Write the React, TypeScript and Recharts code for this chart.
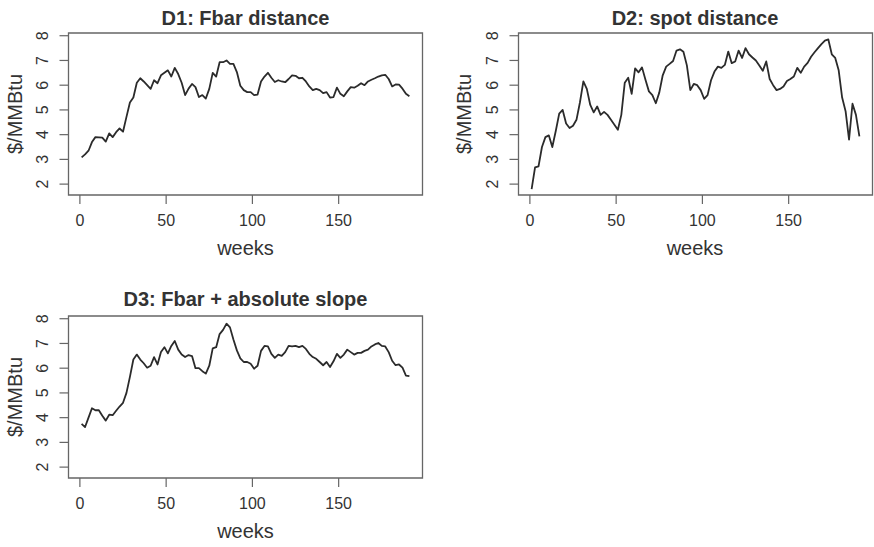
import React from 'react';
import { LineChart, Line, XAxis, YAxis, ReferenceArea } from 'recharts';

// weekly index, sampled every second week
const weeks = [
  1, 3, 5, 7, 9, 11, 13, 15, 17, 19, 21, 23, 25, 27, 29, 31, 33, 35, 37, 39,
  41, 43, 45, 47, 49, 51, 53, 55, 57, 59, 61, 63, 65, 67, 69, 71, 73, 75, 77, 79,
  81, 83, 85, 87, 89, 91, 93, 95, 97, 99, 101, 103, 105, 107, 109, 111, 113, 115, 117, 119,
  121, 123, 125, 127, 129, 131, 133, 135, 137, 139, 141, 143, 145, 147, 149, 151, 153, 155, 157, 159,
  161, 163, 165, 167, 169, 171, 173, 175, 177, 179, 181, 183, 185, 187, 189, 191,
];

const fbarDistance = [
  3.08, 3.2, 3.35, 3.7, 3.9, 3.89, 3.88, 3.72, 4.05, 3.9,
  4.1, 4.25, 4.12, 4.72, 5.3, 5.5, 6.1, 6.28, 6.15, 6.0,
  5.85, 6.2, 6.08, 6.4, 6.5, 6.6, 6.35, 6.7, 6.45, 6.1,
  5.6, 5.86, 6.05, 5.92, 5.52, 5.6, 5.46, 5.85, 6.5, 6.35,
  6.93, 6.93, 7.0, 6.86, 6.86, 6.53, 5.98, 5.8, 5.72, 5.72,
  5.6, 5.62, 6.15, 6.35, 6.5, 6.3, 6.13, 6.2, 6.15, 6.12,
  6.25, 6.4, 6.38, 6.28, 6.3, 6.15, 5.95, 5.8, 5.85, 5.8,
  5.68, 5.72, 5.5, 5.52, 5.9, 5.65, 5.55, 5.75, 5.92, 5.9,
  5.98, 6.08, 6.0, 6.15, 6.22, 6.28, 6.35, 6.4, 6.42, 6.25,
  5.95, 6.03, 6.02, 5.86, 5.65, 5.55,
];

const spotDistance = [
  1.8, 2.68, 2.72, 3.5, 3.9, 3.97, 3.5, 4.15, 4.85, 5.0,
  4.45, 4.27, 4.36, 4.6, 5.3, 6.15, 5.85, 5.2, 4.9, 5.14,
  4.8, 4.92, 4.8, 4.6, 4.4, 4.2, 4.8, 6.1, 6.3, 5.65,
  6.68, 6.52, 6.72, 6.22, 5.75, 5.6, 5.27, 5.7, 6.4, 6.75,
  6.86, 6.98, 7.4, 7.45, 7.35, 6.8, 5.8, 6.05, 6.0, 5.8,
  5.45, 5.6, 6.2, 6.55, 6.75, 6.7, 6.82, 7.36, 6.89, 6.96,
  7.4, 7.1, 7.5, 7.25, 7.12, 7.0, 6.8, 6.58, 6.96, 6.25,
  6.0, 5.8, 5.85, 5.95, 6.17, 6.25, 6.35, 6.7, 6.5, 6.75,
  6.9, 7.15, 7.33, 7.5, 7.66, 7.8, 7.85, 7.25, 7.1, 6.6,
  5.5, 4.95, 3.8, 5.25, 4.8, 3.93,
];

const fbarAbsSlope = [
  3.75, 3.62, 4.0, 4.38, 4.3, 4.3, 4.08, 3.88, 4.12, 4.1,
  4.28, 4.45, 4.6, 5.0, 5.65, 6.35, 6.55, 6.35, 6.2, 6.02,
  6.1, 6.45, 6.15, 6.65, 6.85, 6.6, 6.9, 7.1, 6.75, 6.55,
  6.45, 6.53, 6.49, 6.0, 6.0, 5.88, 5.78, 6.1, 6.8, 6.85,
  7.38, 7.55, 7.8, 7.65, 7.16, 6.72, 6.4, 6.25, 6.25, 6.18,
  5.98, 6.1, 6.7, 6.9, 6.88, 6.58, 6.42, 6.55, 6.5, 6.65,
  6.9, 6.88, 6.9, 6.85, 6.9, 6.78, 6.58, 6.45, 6.38, 6.25,
  6.12, 6.25, 6.05, 6.28, 6.58, 6.42, 6.55, 6.75, 6.65, 6.55,
  6.62, 6.62, 6.7, 6.75, 6.88, 6.96, 7.02, 6.9, 6.88, 6.65,
  6.3, 6.12, 6.15, 6.02, 5.7, 5.68,
];

const xTicks = [0, 50, 100, 150];
const yTicks = [2, 3, 4, 5, 6, 7, 8];
const xDomain = [-6.6, 198.6];
const yDomain = [1.56, 8.11];

const FONT = '"Liberation Sans", Arial, sans-serif';
const BOX = '#666';
const INK = '#333';

const YTick = (props: any) => {
  const { x, y, payload } = props;
  return (
    <text x={x} y={y} transform={`rotate(-90, ${x}, ${y})`} textAnchor="middle" fontSize={16} fill={INK} fontFamily={FONT}>
      {payload.value}
    </text>
  );
};

const Panel = ({ values, left, top }: { values: number[]; left: number; top: number }) => {
  const data = weeks.map((w, i) => ({ week: w, v: values[i] }));
  return (
    <div style={{ position: 'absolute', left, top }}>
      <LineChart width={440} height={273} data={data} margin={{ top: 33, right: 17.5, left: 0, bottom: 38 }}>
        <XAxis
          dataKey="week"
          type="number"
          domain={xDomain}
          ticks={xTicks}
          allowDataOverflow
          axisLine={false}
          tickLine={{ stroke: BOX, strokeWidth: 1.2 }}
          tickSize={9}
          tickMargin={11}
          height={40}
          tick={{ fill: INK, fontSize: 16, fontFamily: FONT }}
        />
        <YAxis
          type="number"
          domain={yDomain}
          ticks={yTicks}
          allowDataOverflow
          axisLine={false}
          tickLine={{ stroke: BOX, strokeWidth: 1.2 }}
          tickSize={9}
          tickMargin={11}
          width={68.5}
          tick={<YTick />}
        />
        <ReferenceArea
          x1={xDomain[0]}
          x2={xDomain[1]}
          y1={yDomain[0]}
          y2={yDomain[1]}
          fill="none"
          fillOpacity={0}
          stroke={BOX}
          strokeWidth={1.3}
          ifOverflow="visible"
        />
        <Line type="linear" dataKey="v" stroke="#2b2b2b" strokeWidth={1.8} strokeLinejoin="round" dot={false} isAnimationActive={false} />
      </LineChart>
    </div>
  );
};

const App: React.FC = () => {
  return (
    <div style={{ position: 'absolute', left: 0, top: 0, width: 874, height: 547, overflow: 'hidden', background: '#fff', fontFamily: FONT }}>
      <Panel values={fbarDistance} left={0} top={0} />
      <Panel values={spotDistance} left={449.5} top={0} />
      <Panel values={fbarAbsSlope} left={0} top={283} />
      <svg width={874} height={547} style={{ position: 'absolute', left: 0, top: 0, pointerEvents: 'none' }} fontFamily={FONT} fill={INK}>
        <text x={245.5} y={25} textAnchor="middle" fontSize={20} fontWeight="bold">D1: Fbar distance</text>
        <text x={695} y={25} textAnchor="middle" fontSize={20} fontWeight="bold">D2: spot distance</text>
        <text x={245.5} y={306} textAnchor="middle" fontSize={20} fontWeight="bold">D3: Fbar + absolute slope</text>
        <text x={245.5} y={255} textAnchor="middle" fontSize={20}>weeks</text>
        <text x={695} y={255} textAnchor="middle" fontSize={20}>weeks</text>
        <text x={245.5} y={538} textAnchor="middle" fontSize={20}>weeks</text>
        <text x={21.5} y={114} textAnchor="middle" fontSize={20} transform="rotate(-90, 21.5, 114)">$/MMBtu</text>
        <text x={471} y={114} textAnchor="middle" fontSize={20} transform="rotate(-90, 471, 114)">$/MMBtu</text>
        <text x={21.5} y={397} textAnchor="middle" fontSize={20} transform="rotate(-90, 21.5, 397)">$/MMBtu</text>
      </svg>
    </div>
  );
};

export default App;
